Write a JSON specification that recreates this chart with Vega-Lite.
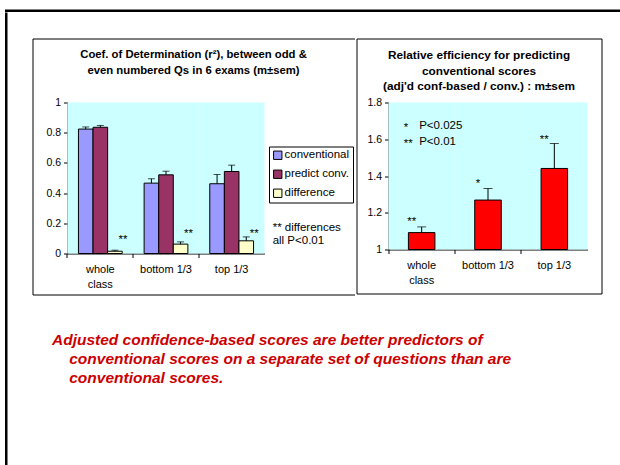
{
  "$schema": "https://vega.github.io/schema/vega-lite/v6.json",
  "padding": {"left": 5, "top": 9.5, "right": 0, "bottom": 0},
  "background": "white",
  "config": {
    "font": "Liberation Sans",
    "view": {"stroke": "black", "strokeWidth": 1, "fill": "white"},
    "axis": {"labelFont": "Liberation Sans", "labelColor": "black", "domainColor": "black", "tickColor": "black", "grid": false, "tickSize": 4},
    "text": {"font": "Liberation Sans", "color": "black"}
  },
  "spacing": 0,
  "vconcat": [
    {
      "width": 615, "height": 2.5,
      "view": {"stroke": null, "fill": "black"},
      "data": {"values": []},
      "mark": "point",
      "encoding": {}
    },
    {
      "spacing": 23.5,
      "hconcat": [
        {
          "width": 2.5, "height": 453,
          "view": {"stroke": null, "fill": "black"},
          "data": {"values": []},
          "mark": "point",
          "encoding": {}
        },
        {
          "spacing": 0,
          "vconcat": [
            {
              "width": 20, "height": 25,
              "view": {"stroke": null, "fill": null},
              "data": {"values": []},
              "mark": "point",
              "encoding": {}
            },
            {
              "spacing": 0,
              "hconcat": [
                {
                  "width": 322, "height": 256,
                  "view": {"stroke": "black", "strokeWidth": 1, "fill": "white", "strokeDash": [322, 256, 578]},
                  "title": {
                    "text": ["Coef. of Determination (r\u00b2), between odd &", "even numbered Qs in 6 exams (m\u00b1sem)"],
                    "fontSize": 11.3, "fontWeight": "bold", "anchor": "middle", "frame": "group",
                    "offset": -37.5, "baseline": "top", "lineHeight": 16, "color": "black"
                  },
                  "data": {"values": [
                    {"cat": "whole class", "series": "conventional", "value": 0.824, "upper": 0.838},
                    {"cat": "whole class", "series": "predict conv.", "value": 0.836, "upper": 0.848},
                    {"cat": "whole class", "series": "difference", "value": 0.015, "upper": 0.022},
                    {"cat": "bottom 1/3", "series": "conventional", "value": 0.466, "upper": 0.495},
                    {"cat": "bottom 1/3", "series": "predict conv.", "value": 0.521, "upper": 0.545},
                    {"cat": "bottom 1/3", "series": "difference", "value": 0.062, "upper": 0.077},
                    {"cat": "top 1/3", "series": "conventional", "value": 0.462, "upper": 0.523},
                    {"cat": "top 1/3", "series": "predict conv.", "value": 0.543, "upper": 0.585},
                    {"cat": "top 1/3", "series": "difference", "value": 0.084, "upper": 0.11}
                  ]},
                  "resolve": {"axis": {"x": "independent"}},
                  "layer": [
                    {
                      "data": {"values": [{"cat": "whole class"}, {"cat": "bottom 1/3"}, {"cat": "top 1/3"}]},
                      "mark": {"type": "bar", "fill": "#CCFFFF", "width": {"band": 1.5}},
                      "encoding": {
                        "x": {"field": "cat", "type": "nominal", "sort": null,
                          "scale": {"domain": ["whole class", "bottom 1/3", "top 1/3"], "range": [35, 232], "paddingInner": 0.3333, "paddingOuter": 0.16667},
                          "axis": {"orient": "bottom", "labels": false, "domain": false, "ticks": true, "tickSize": 4, "bandPosition": -0.25, "offset": -41, "title": null}},
                        "y": {"datum": 1, "type": "quantitative",
                          "scale": {"domain": [0, 1], "range": [215, 64], "nice": false},
                          "axis": {"values": [0, 0.2, 0.4, 0.6, 0.8, 1], "format": ".1~f", "offset": -35, "title": null, "tickSize": 4, "labelFontSize": 10.5, "labelPadding": 3}},
                        "y2": {"datum": 0}
                      }
                    },
                    {
                      "mark": {"type": "bar", "stroke": "black", "strokeWidth": 1},
                      "encoding": {
                        "x": {"field": "cat", "type": "nominal", "sort": null,
                          "axis": {"orient": "bottom", "ticks": false, "domain": true, "labelPadding": 9.5, "labelFontSize": 11, "labelLineHeight": 15, "labelAngle": 0,
                            "labelExpr": "datum.value == 'whole class' ? ['whole', 'class'] : datum.value", "offset": -41, "title": null}},
                        "xOffset": {"field": "series", "type": "nominal", "sort": null,
                          "scale": {"domain": ["conventional", "predict conv.", "difference"], "paddingInner": 0, "paddingOuter": 0}},
                        "y": {"field": "value", "type": "quantitative"},
                        "color": {"field": "series", "type": "nominal",
                          "scale": {"domain": ["conventional", "predict conv.", "difference"], "range": ["#9999FF", "#993366", "#FFFFCC"]},
                          "legend": {"orient": "none", "legendX": 264, "legendY": 137, "title": null, "symbolType": "square", "symbolSize": 70,
                            "symbolStrokeColor": "black", "symbolStrokeWidth": 1, "labelFontSize": 11.5, "labelFont": "Liberation Sans", "labelColor": "black",
                            "strokeColor": "black", "fillColor": "white", "padding": 3, "rowPadding": 6, "labelOffset": 1}}
                      }
                    },
                    {
                      "mark": {"type": "rule", "color": "black", "strokeWidth": 1},
                      "encoding": {
                        "x": {"field": "cat", "type": "nominal", "sort": null, "axis": null},
                        "xOffset": {"field": "series", "type": "nominal", "sort": null},
                        "y": {"field": "value", "type": "quantitative"},
                        "y2": {"field": "upper"}
                      }
                    },
                    {
                      "mark": {"type": "tick", "orient": "horizontal", "size": 7, "thickness": 1, "color": "black"},
                      "encoding": {
                        "x": {"field": "cat", "type": "nominal", "sort": null, "axis": null},
                        "xOffset": {"field": "series", "type": "nominal", "sort": null},
                        "y": {"field": "upper", "type": "quantitative"}
                      }
                    },
                    {
                      "data": {"values": [
                        {"cat": "whole class", "series": "difference", "y": 0.11, "label": "**"},
                        {"cat": "bottom 1/3", "series": "difference", "y": 0.147, "label": "**"},
                        {"cat": "top 1/3", "series": "difference", "y": 0.147, "label": "**"}
                      ]},
                      "mark": {"type": "text", "fontSize": 11.5, "dx": 8, "dy": 3, "baseline": "middle"},
                      "encoding": {
                        "x": {"field": "cat", "type": "nominal", "sort": null, "axis": null},
                        "xOffset": {"field": "series", "type": "nominal", "sort": null},
                        "y": {"field": "y", "type": "quantitative"},
                        "text": {"field": "label"}
                      }
                    },
                    {
                      "data": {"values": [{"cat": "top 1/3", "y": 0.17, "label": "** differences\nall P<0.01"}]},
                      "mark": {"type": "text", "fontSize": 11.5, "align": "left", "dx": 41, "baseline": "middle", "lineBreak": "\n", "lineHeight": 13},
                      "encoding": {
                        "x": {"field": "cat", "type": "nominal", "sort": null, "axis": null},
                        "y": {"field": "y", "type": "quantitative"},
                        "text": {"field": "label"}
                      }
                    }
                  ]
                },
                {
                  "width": 245, "height": 255,
                  "title": {
                    "text": ["Relative efficiency for predicting", "conventional scores", "(adj'd conf-based / conv.) : m\u00b1sem"],
                    "fontSize": 11.8, "fontWeight": "bold", "anchor": "middle", "frame": "group",
                    "offset": -54.5, "baseline": "top", "lineHeight": 15.5, "color": "black"
                  },
                  "data": {"values": [
                    {"cat": "whole class", "value": 1.092, "upper": 1.123},
                    {"cat": "bottom 1/3", "value": 1.269, "upper": 1.332},
                    {"cat": "top 1/3", "value": 1.441, "upper": 1.577}
                  ]},
                  "resolve": {"axis": {"x": "independent"}},
                  "layer": [
                    {
                      "data": {"values": [{"cat": "whole class"}, {"cat": "bottom 1/3"}, {"cat": "top 1/3"}]},
                      "mark": {"type": "bar", "fill": "#CCFFFF", "width": {"band": 2.5}},
                      "encoding": {
                        "x": {"field": "cat", "type": "nominal", "sort": null,
                          "scale": {"domain": ["whole class", "bottom 1/3", "top 1/3"], "range": [32, 231], "paddingInner": 0.6, "paddingOuter": 0.3},
                          "axis": {"orient": "bottom", "labels": false, "domain": false, "ticks": true, "tickSize": 4, "bandPosition": -0.75, "offset": -44, "title": null}},
                        "y": {"datum": 1.8, "type": "quantitative",
                          "scale": {"domain": [1, 1.8], "range": [211, 64], "nice": false, "zero": false},
                          "axis": {"values": [1, 1.2, 1.4, 1.6, 1.8], "format": ".1~f", "offset": -32, "title": null, "tickSize": 4, "labelFontSize": 10.5, "labelPadding": 3}},
                        "y2": {"datum": 1}
                      }
                    },
                    {
                      "mark": {"type": "bar", "fill": "#FF0000", "stroke": "black", "strokeWidth": 1},
                      "encoding": {
                        "x": {"field": "cat", "type": "nominal", "sort": null,
                          "axis": {"orient": "bottom", "ticks": false, "domain": true, "labelPadding": 9.5, "labelFontSize": 11, "labelLineHeight": 15, "labelAngle": 0,
                            "labelExpr": "datum.value == 'whole class' ? ['whole', 'class'] : datum.value", "offset": -44, "title": null}},
                        "y": {"field": "value", "type": "quantitative"},
                        "y2": {"datum": 1}
                      }
                    },
                    {
                      "mark": {"type": "rule", "color": "black", "strokeWidth": 1},
                      "encoding": {
                        "x": {"field": "cat", "type": "nominal", "sort": null, "axis": null},
                        "y": {"field": "value", "type": "quantitative"},
                        "y2": {"field": "upper"}
                      }
                    },
                    {
                      "mark": {"type": "tick", "orient": "horizontal", "size": 9, "thickness": 1, "color": "black"},
                      "encoding": {
                        "x": {"field": "cat", "type": "nominal", "sort": null, "axis": null},
                        "y": {"field": "upper", "type": "quantitative"}
                      }
                    },
                    {
                      "data": {"values": [
                        {"cat": "whole class", "y": 1.168, "label": "**"},
                        {"cat": "bottom 1/3", "y": 1.372, "label": "*"},
                        {"cat": "top 1/3", "y": 1.61, "label": "**"}
                      ]},
                      "mark": {"type": "text", "fontSize": 11.5, "dx": -10, "dy": 3, "baseline": "middle"},
                      "encoding": {
                        "x": {"field": "cat", "type": "nominal", "sort": null, "axis": null},
                        "y": {"field": "y", "type": "quantitative"},
                        "text": {"field": "label"}
                      }
                    },
                    {
                      "data": {"values": [
                        {"cat": "whole class", "y": 1.67, "star": "*", "p": "P<0.025"},
                        {"cat": "whole class", "y": 1.587, "star": "**", "p": "P<0.01"}
                      ]},
                      "layer": [
                        {
                          "mark": {"type": "text", "fontSize": 11.5, "align": "left", "dx": -18, "dy": 2, "baseline": "middle"},
                          "encoding": {
                            "x": {"field": "cat", "type": "nominal", "sort": null, "axis": null},
                            "y": {"field": "y", "type": "quantitative"},
                            "text": {"field": "star"}
                          }
                        },
                        {
                          "mark": {"type": "text", "fontSize": 11.5, "align": "left", "dx": -2.5, "baseline": "middle"},
                          "encoding": {
                            "x": {"field": "cat", "type": "nominal", "sort": null, "axis": null},
                            "y": {"field": "y", "type": "quantitative"},
                            "text": {"field": "p"}
                          }
                        }
                      ]
                    }
                  ]
                }
              ]
            },
            {
              "width": 570, "height": 160,
              "view": {"stroke": null, "fill": null},
              "title": {
                "text": [
                  "Adjusted confidence-based scores are better predictors of",
                  "\u200b\u00a0\u00a0\u00a0\u00a0conventional scores on a separate set of questions than are",
                  "\u200b\u00a0\u00a0\u00a0\u00a0conventional scores."
                ],
                "orient": "bottom", "anchor": "start", "frame": "group", "dx": 19.5, "offset": -123,
                "font": "Liberation Sans", "fontSize": 15.5, "fontWeight": "bold", "fontStyle": "italic",
                "color": "#CC0000", "lineHeight": 19
              },
              "data": {"values": []},
              "mark": "point",
              "encoding": {}
            }
          ]
        }
      ]
    }
  ]
}
